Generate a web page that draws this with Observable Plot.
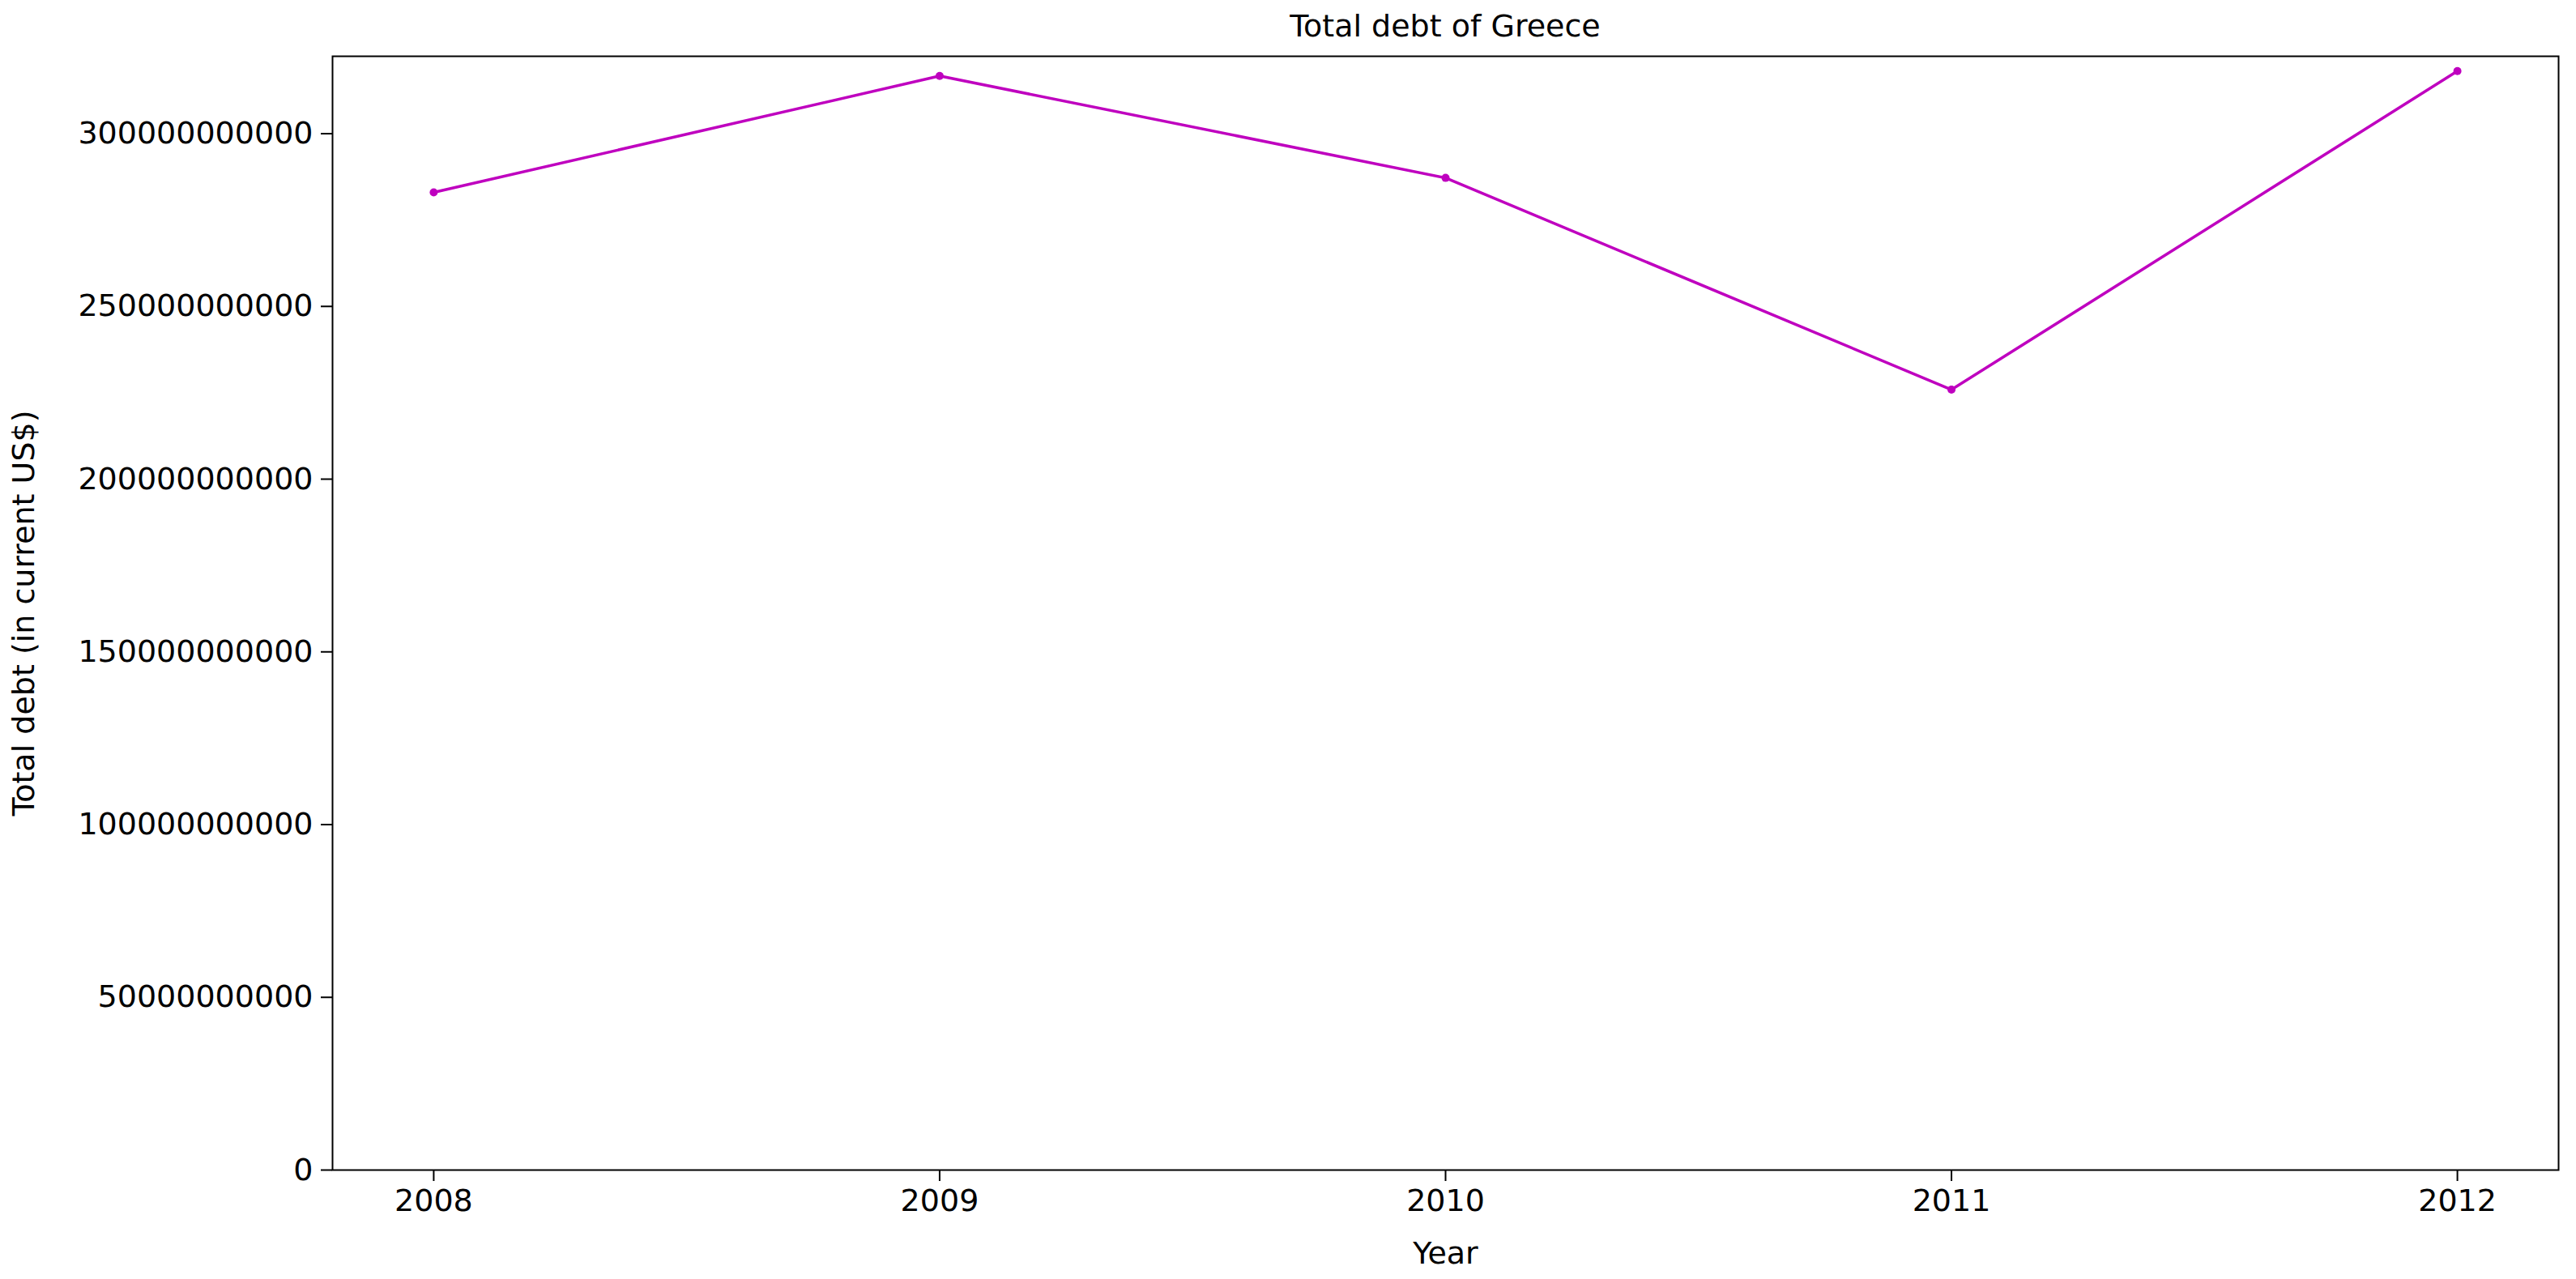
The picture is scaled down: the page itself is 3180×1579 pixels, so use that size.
<!DOCTYPE html>
<html><head><meta charset="utf-8">
<script src="https://cdn.jsdelivr.net/npm/d3@7"></script>
<script src="https://cdn.jsdelivr.net/npm/@observablehq/plot@0.6"></script>
<style>
body{margin:0;background:#fff;font-family:"DejaVu Sans",sans-serif;}
#title{height:60px;width:3180px;position:relative;}
#title span{position:absolute;left:1784px;transform:translateX(-50%);bottom:6px;font-size:38px;color:#000;}
</style></head>
<body>
<div id="title"><span>Total debt of Greece</span></div>
<div id="chart"></div>
<script>
const years = [2008, 2009, 2010, 2011, 2012];
const debt = [283.0e9, 316.7e9, 287.2e9, 225.9e9, 318.1e9];
const yTicks = [0, 50e9, 100e9, 150e9, 200e9, 250e9, 300e9];
const data = years.map((y, i) => ({year: y, debt: debt[i]}));
const color = "#bf00bf";
const plot = Plot.plot({
  width: 3180, height: 1519,
  marginLeft: 410, marginRight: 22, marginTop: 9, marginBottom: 135,
  style: {fontFamily: "DejaVu Sans, sans-serif", fontSize: "38px", color: "#000", background: "#fff"},
  x: {domain: [2007.8, 2012.2], ticks: years, tickFormat: d3.format("d"), label: "Year", labelAnchor: "center", labelOffset: 115, tickSize: 14, tickPadding: 10},
  y: {domain: [0, 322.4e9], ticks: yTicks, tickFormat: d3.format("d"), label: "Total debt (in current US$)", labelAnchor: "center", labelOffset: 395, tickSize: 14, tickPadding: 10},
  marks: [
    Plot.frame({stroke: "#000", strokeWidth: 2}),
    Plot.axisX({ticks: years, tickFormat: d3.format("d"), tickSize: 14, tickPadding: 10, label: "Year", labelAnchor: "center", labelArrow: "none", labelOffset: 115, strokeWidth: 2}),
    Plot.axisY({ticks: yTicks, tickFormat: d3.format("d"), tickSize: 14, tickPadding: 10, label: "Total debt (in current US$)", labelAnchor: "center", labelArrow: "none", labelOffset: 395, strokeWidth: 2}),
    Plot.line(data, {x: "year", y: "debt", stroke: color, strokeWidth: 3.5}),
    Plot.dot(data, {x: "year", y: "debt", fill: color, r: 5})
  ]
});
document.getElementById("chart").appendChild(plot);
</script>
</body></html>
